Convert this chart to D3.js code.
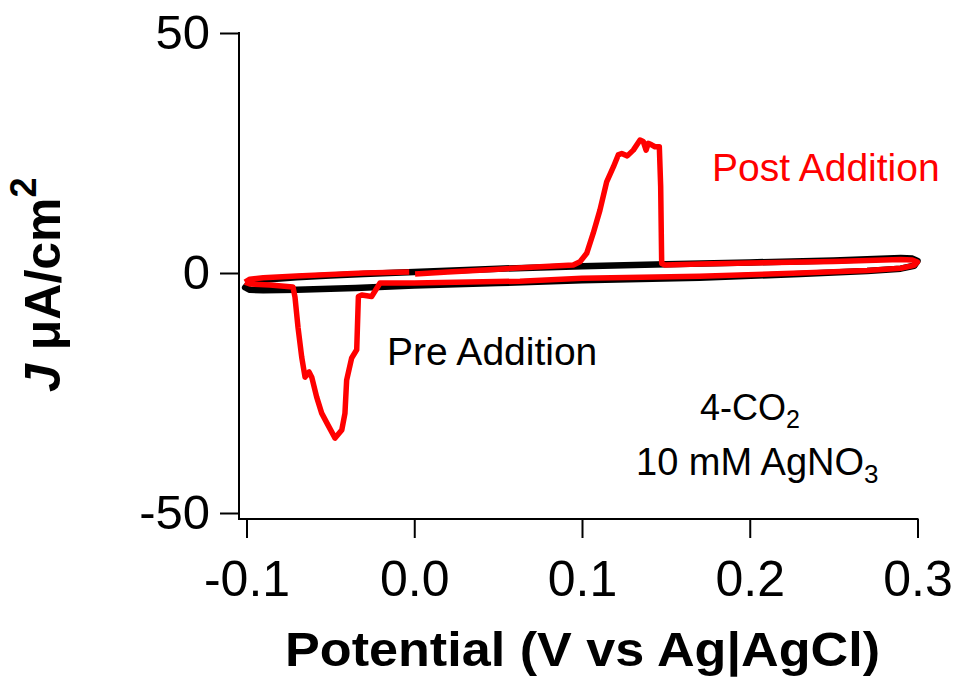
<!DOCTYPE html>
<html>
<head>
<meta charset="utf-8">
<script src="https://cdn.jsdelivr.net/npm/d3@7"></script>
<style>
  body { margin: 0; background: #fff; }
  text { font-family: "Liberation Sans", Arial, sans-serif; }
</style>
</head>
<body>
<div id="chart"></div>
<script>
// data (V vs Ag|AgCl, uA/cm2)
// pre addition (black) : forward scan then reverse scan
var prePotential = [-0.1008, -0.098, -0.09, -0.07, -0.05, -0.03, 0.0, 0.05, 0.1, 0.15, 0.2, 0.25, 0.29, 0.297, 0.3,
  0.298, 0.29, 0.27, 0.23, 0.17, 0.1, 0.05, 0.0, -0.035, -0.07, -0.09, -0.098, -0.1008];
var preCurrent = [-3.0, -2.0, -1.4, -0.9, -0.5, -0.2, 0.2, 0.9, 1.4, 1.8, 2.2, 2.6, 3.1, 3.0, 2.5,
  1.5, 0.9, 0.4, -0.2, -1.0, -1.5, -2.1, -2.6, -3.1, -3.5, -3.6, -3.5, -3.0];

// post addition (red) : null = gap in the recorded trace
var postPotential = [-0.1009, -0.098, -0.09, -0.07, -0.05, -0.03, -0.003, null,
  0.0005, 0.02, 0.05, 0.075, 0.0948, 0.0988, 0.1028, 0.1067, 0.1107, 0.1147, 0.1187, 0.1216, 0.1237, 0.127,
  0.1306, 0.1346, 0.1365, 0.1382, 0.1395, 0.1415, 0.1435, 0.1461, 0.1469, 0.1475, 0.1495, 0.1703, 0.2, 0.25, 0.29, 0.297, 0.3,
  0.298, 0.29, 0.27, 0.23, 0.17, 0.1, 0.063, 0.0, -0.0204, -0.0254, -0.0313, -0.0333, -0.0343, -0.0373, -0.0403,
  -0.0413, -0.0432, -0.0472, -0.0514, -0.0552, -0.0582, -0.0611, -0.0627, -0.0651, -0.0671, -0.0693, -0.0711,
  -0.0723, -0.086, -0.098, -0.1009];
var postCurrent = [-1.9, -1.3, -1.0, -0.6, -0.3, 0.0, 0.2, null,
  -0.2, 0.2, 0.8, 1.3, 1.67, 2.35, 4.1, 8.3, 13.1, 19.0, 22.1, 24.6, 24.9, 24.4,
  25.6, 27.7, 27.4, 25.6, 27.0, 26.7, 26.3, 26.3, 18.0, 2.0, 1.67, 1.9, 2.1, 2.4, 2.8, 2.7, 2.3,
  1.6, 1.0, 0.5, 0.0, -0.7, -1.1, -1.7, -2.1, -2.1, -4.9, -4.6, -4.9, -16.0, -17.7, -22.3,
  -29.2, -32.7, -34.4, -31.7, -29.2, -25.8, -21.7, -20.6, -21.7, -17.5, -11.3, -5.0,
  -2.9, -2.5, -2.3, -1.9];

var xTicks = [-0.1, 0.0, 0.1, 0.2, 0.3];
var yTicks = [-50, 0, 50];

var width = 959;
var height = 681;

var svg = d3.select('#chart')
  .append('svg')
  .attr('width', width)
  .attr('height', height);

var x = d3.scaleLinear().domain([-0.1, 0.3]).range([246.5, 917.5]);
var y = d3.scaleLinear().domain([-50, 50]).range([513, 33]);

var axisLeftX = 239;  // axes are offset from the data area
var axisBottomY = 519;

// y axis
var yAxis = svg.append('g')
  .attr('transform', 'translate(' + axisLeftX + ',0)')
  .call(d3.axisLeft(y).tickValues(yTicks).tickSize(19).tickPadding(10).tickFormat(d3.format('d')));
yAxis.select('.domain').remove();
yAxis.selectAll('line').attr('stroke', '#000').attr('stroke-width', 2);
yAxis.selectAll('text').attr('font-size', 49).attr('fill', '#000')
  .attr('font-family', '"Liberation Sans", Arial, sans-serif')
  .text(function(d) { return d < 0 ? '-' + Math.abs(d) : d; });
svg.append('line')
  .attr('x1', axisLeftX).attr('x2', axisLeftX)
  .attr('y1', y(50) - 1).attr('y2', axisBottomY)
  .attr('stroke', '#000').attr('stroke-width', 2);

// x axis
var xAxis = svg.append('g')
  .attr('transform', 'translate(0,' + axisBottomY + ')')
  .call(d3.axisBottom(x).tickValues(xTicks).tickSize(19).tickPadding(22).tickFormat(d3.format('.1f')));
xAxis.select('.domain').remove();
xAxis.selectAll('line').attr('stroke', '#000').attr('stroke-width', 2);
xAxis.selectAll('text').attr('font-size', 50).attr('fill', '#000')
  .attr('font-family', '"Liberation Sans", Arial, sans-serif')
  .text(function(d) { return d < 0 ? '-' + d3.format('.1f')(Math.abs(d)) : d3.format('.1f')(d); });
svg.append('line')
  .attr('x1', axisLeftX - 1).attr('x2', x(0.3) + 1)
  .attr('y1', axisBottomY).attr('y2', axisBottomY)
  .attr('stroke', '#000').attr('stroke-width', 2);

// traces
function toPoints(px, py) {
  return px.map(function(v, i) { return [v, py[i]]; });
}
var line = d3.line()
  .defined(function(d) { return d[0] !== null; })
  .x(function(d) { return x(d[0]); })
  .y(function(d) { return y(d[1]); });

svg.append('path')
  .datum(toPoints(prePotential, preCurrent))
  .attr('d', line)
  .attr('fill', 'none')
  .attr('stroke', '#000')
  .attr('stroke-width', 6.5)
  .attr('stroke-linejoin', 'round')
  .attr('stroke-linecap', 'round');

svg.append('path')
  .datum(toPoints(postPotential, postCurrent))
  .attr('d', line)
  .attr('fill', 'none')
  .attr('stroke', '#ff0000')
  .attr('stroke-width', 5.5)
  .attr('stroke-linejoin', 'round')
  .attr('stroke-linecap', 'butt');

// labels
svg.append('text')
  .attr('x', 712).attr('y', 181)
  .attr('font-size', 39).attr('fill', '#ff0000')
  .text('Post Addition');

svg.append('text')
  .attr('x', 387).attr('y', 365)
  .attr('font-size', 39).attr('fill', '#000')
  .text('Pre Addition');

var l1 = svg.append('text')
  .attr('x', 700).attr('y', 420)
  .attr('font-size', 36).attr('fill', '#000');
l1.append('tspan').text('4-CO');
l1.append('tspan').attr('font-size', 25).attr('dy', 8).text('2');

var l2 = svg.append('text')
  .attr('x', 636).attr('y', 475)
  .attr('font-size', 38).attr('fill', '#000');
l2.append('tspan').text('10 mM AgNO');
l2.append('tspan').attr('font-size', 26).attr('dy', 8).text('3');

// axis titles
svg.append('text')
  .attr('x', 285).attr('y', 666)
  .attr('font-size', 48).attr('font-weight', 'bold').attr('fill', '#000')
  .attr('textLength', 595).attr('lengthAdjust', 'spacingAndGlyphs')
  .text('Potential (V vs Ag|AgCl)');

var yTitle = svg.append('text')
  .attr('transform', 'translate(60,392) rotate(-90)')
  .attr('font-size', 50).attr('font-weight', 'bold').attr('fill', '#000');
yTitle.append('tspan').attr('font-style', 'italic').text('J');
yTitle.append('tspan').text(' μA/cm');
yTitle.append('tspan').attr('font-size', 36).attr('dy', -24).text('2');
</script>
</body>
</html>
